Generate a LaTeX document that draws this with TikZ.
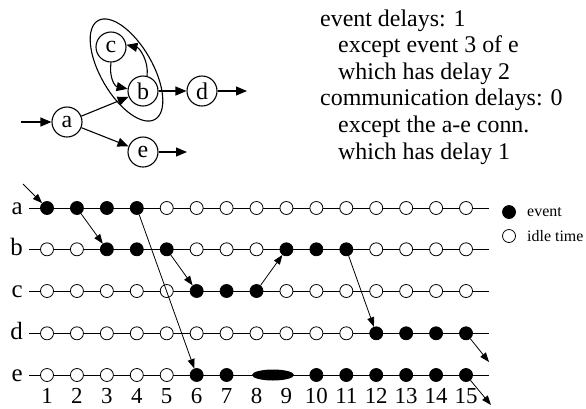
\documentclass[tikz,border=0pt]{standalone}
\usepackage{fontspec}
\setmainfont{Liberation Serif}
\usetikzlibrary{arrows.meta,shapes.geometric}
\begin{document}
\begin{tikzpicture}[x=1bp,y=-1bp,
  proc/.style={circle,draw,line width=1.1bp,minimum size=30bp,inner sep=0pt,font=\fontsize{24}{26}\selectfont},
  garrow/.style={line width=1.1bp,-{Triangle[length=11bp,width=9bp]}},
  tarrow/.style={line width=0.8bp,-{Triangle[length=9.5bp,width=7bp]}},
  tline/.style={line width=0.9bp},
  evt/.style={circle,fill=black,draw=black,line width=0.8bp,minimum size=13bp,inner sep=0pt},
  idle/.style={circle,fill=white,draw=black,line width=0.8bp,minimum size=13bp,inner sep=0pt},
  rowlab/.style={anchor=base east,inner sep=0pt,font=\fontsize{25}{27}\selectfont},
  numlab/.style={anchor=base,inner sep=0pt,font=\fontsize{23}{25}\selectfont},
  note/.style={anchor=base west,inner sep=0pt,font=\fontsize{24}{26}\selectfont},
  legend/.style={anchor=west,inner sep=0pt,font=\fontsize{16}{18}\selectfont}
]
\useasboundingbox (0,0) rectangle (586,408);

% ---- process graph ----
\node[draw,ellipse,line width=1.1bp,minimum width=114bp,minimum height=52bp,rotate=-60] (grp) at (126.5,70) {};
\node[proc] (ga) at (67,122) {a};
\node[proc] (gb) at (143,91) {b};
\node[proc] (gc) at (111,47) {c};
\node[proc] (gd) at (202,91) {d};
\node[proc] (ge) at (143,152) {e};
\coordinate (gin) at (21,122);
\coordinate (gdo) at (247,91);
\coordinate (geo) at (187,152);
\draw[garrow] (gin) -- (ga);
\draw[garrow] (ga) -- (gb);
\draw[garrow] (ga) -- (ge);
\draw[garrow] (gb) -- (gd);
\draw[garrow] (gd) -- (gdo);
\draw[garrow] (ge) -- (geo);
\draw[garrow] (gc.south) .. controls (109,76) and (114,86) .. (gb.172);
\draw[garrow] (gb.75) .. controls (149,62) and (140,48) .. (gc.8);

% ---- delays ----
\node[note] (n1) at (320,26) {event delays: 1};
\node[note] (n2) at (338,52.6) {except event 3 of e};
\node[note] (n3) at (338,79.2) {which has delay 2};
\node[note] (n4) at (320,105.8) {communication delays: 0};
\node[note] (n5) at (338,132.4) {except the a-e conn.};
\node[note] (n6) at (338,159) {which has delay 1};

% ---- time lines ----
\def\cx#1{47+(#1-1)*29.93}
\foreach \r/\y in {a/208,b/249.3,c/291,d/333.3,e/375}{
  \draw[tline] (29,\y) -- (489,\y);
  \node[rowlab] at (23,\y+6) {\r};
}
\foreach \i in {1,...,15}
  \node[numlab] (t\i) at ({\cx{\i}},403.5) {\i};

% row a
\foreach \i in {1,...,4} \node[evt] (a\i) at ({\cx{\i}},208) {};
\foreach \i in {5,...,15} \node[idle] (a\i) at ({\cx{\i}},208) {};
% row b
\foreach \i in {1,2,6,7,8,12,13,14,15} \node[idle] (b\i) at ({\cx{\i}},249.3) {};
\foreach \i in {3,4,5,9,10,11} \node[evt] (b\i) at ({\cx{\i}},249.3) {};
% row c
\foreach \i in {1,...,5,9,10,...,15} \node[idle] (c\i) at ({\cx{\i}},291) {};
\foreach \i in {6,7,8} \node[evt] (c\i) at ({\cx{\i}},291) {};
% row d
\foreach \i in {1,...,11} \node[idle] (d\i) at ({\cx{\i}},333.3) {};
\foreach \i in {12,...,15} \node[evt] (d\i) at ({\cx{\i}},333.3) {};
% row e (event 3 of e lasts two time steps)
\foreach \i in {1,...,5} \node[idle] (e\i) at ({\cx{\i}},375) {};
\foreach \i in {6,7,10,11,...,15} \node[evt] (e\i) at ({\cx{\i}},375) {};
\node[ellipse,fill=black,minimum width=42bp,minimum height=11bp,inner sep=0pt] (e8) at (273,375) {};

% messages
\coordinate (ain) at (23,184);
\coordinate (dout) at (489,362);
\coordinate (eout) at (491,405);
\draw[tarrow] (ain) -- (a1);
\draw[tarrow] (a2) -- (b3);
\draw[tarrow] (a4) -- (e6);
\draw[tarrow] (b5) -- (c6);
\draw[tarrow] (c8) -- (b9);
\draw[tarrow] (b11) -- (d12);
\draw[tarrow] (d15) -- (dout);
\draw[tarrow] (e15) -- (eout);

% legend
\node[evt] (lev) at (509,212) {};
\node[idle] (lid) at (509,236) {};
\node[legend] (lt1) at (527,212) {event};
\node[legend] (lt2) at (527,236) {idle time};
\end{tikzpicture}
\end{document}
